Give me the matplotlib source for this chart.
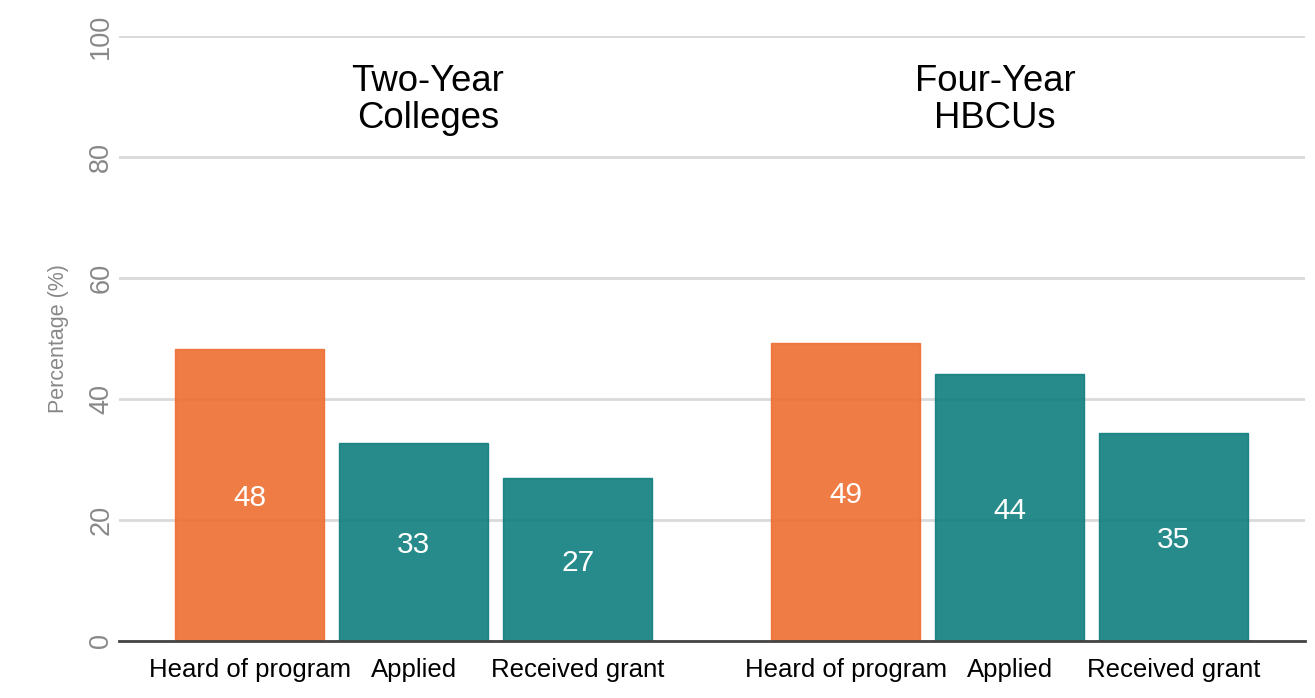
import matplotlib
matplotlib.use("Agg")
import matplotlib.pyplot as plt
import numpy as np

plt.rcParams['font.family'] = ['Liberation Sans', 'DejaVu Sans']

groups = ["Two-Year\nColleges", "Four-Year\nHBCUs"]
categories = ["Heard of program", "Applied", "Received grant"]
two_year = [48.3, 32.7, 26.9]
four_year = [49.3, 44.1, 34.4]
value_labels_two = ["48", "33", "27"]
value_labels_four = ["49", "44", "35"]
yticks = [0, 20, 40, 60, 80, 100]

colors = ["#EE6E30", "#0E7E7D", "#0E7E7D"]

fig = plt.figure(figsize=(13.15, 6.98), dpi=100)
ax = fig.add_axes([119/1315, 1-641/698, (1305-119)/1315, (641-36)/698])

group_gap = 1.634
x_two = np.arange(3)
x_four = np.arange(3) + 3 + (group_gap - 1)
width = 0.91

for xs, vals, labs in [(x_two, two_year, value_labels_two), (x_four, four_year, value_labels_four)]:
    for x, v, c, lab in zip(xs, vals, colors, labs):
        ax.bar(x, v, width=width, color=c, alpha=0.9, edgecolor=c, linewidth=1, zorder=2)
        ax.text(x, v/2, lab, ha='center', va='center_baseline', color='white', fontsize=21.5, zorder=3)

ax.set_xlim(-0.796, x_four[-1] + 0.80)
ax.set_ylim(0, 100)
ax.set_yticks(yticks)
ax.set_yticklabels([str(t) for t in yticks], rotation=90, va='center', color='#888888', fontsize=19.5)
ax.set_xticks(list(x_two) + list(x_four))
ax.set_xticklabels(categories + categories, fontsize=18.5, color='black')
ax.tick_params(axis='both', length=0)
ax.tick_params(axis='y', pad=3.5)
ax.tick_params(axis='x', pad=12)
ax.grid(axis='y', color='#d9d9d9', linewidth=2, zorder=0)
ax.set_axisbelow(True)
for s in ['left', 'right', 'top']:
    ax.spines[s].set_visible(False)
ax.spines['bottom'].set_color('#444444')
ax.spines['bottom'].set_linewidth(2)
ax.spines['bottom'].set_zorder(4)

ax.set_ylabel("Percentage (%)", color='#888888', fontsize=15.5, labelpad=14)

title_x = [(428-119)/1186, (995-119)/1186]
for tx, g in zip(title_x, groups):
    ax.text(tx, 0.894, g, transform=ax.transAxes, ha='center', va='center',
            fontsize=26.3, color='black', linespacing=1.1)

fig.savefig("out.png", dpi=100, facecolor='white')
